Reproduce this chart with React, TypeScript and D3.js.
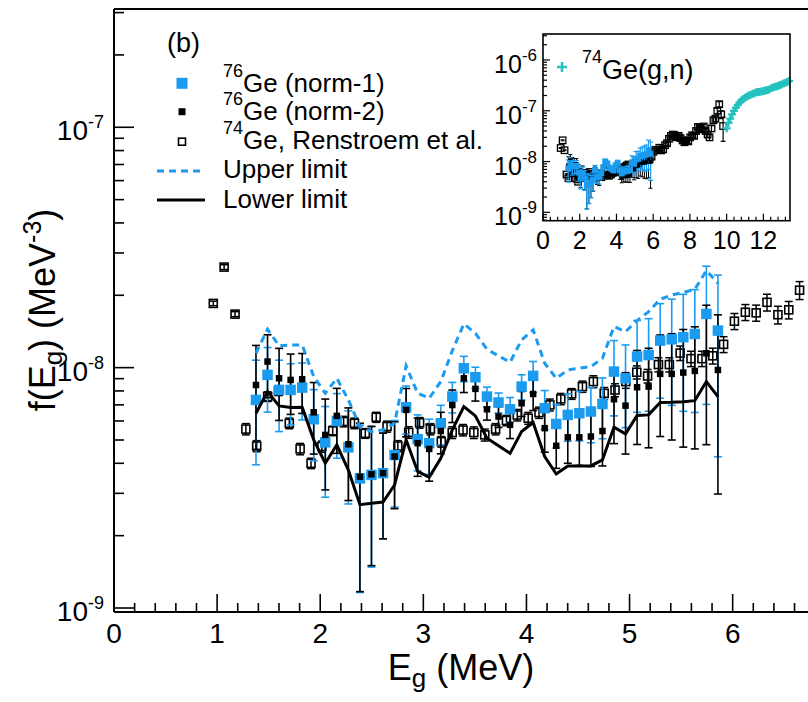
import React from 'react';
import * as d3 from 'd3';

// ---------- data ----------
const energy = [1.377, 1.489, 1.601, 1.713, 1.825, 1.937, 2.049, 2.161, 2.273, 2.385, 2.497, 2.609, 2.721, 2.833, 2.945, 3.057, 3.169, 3.281, 3.393, 3.505, 3.617, 3.729, 3.841, 3.953, 4.065, 4.177, 4.289, 4.401, 4.513, 4.625, 4.737, 4.849, 4.961, 5.073, 5.185, 5.297, 5.409, 5.521, 5.633, 5.745, 5.857];
// values in units of 1e-9 MeV^-3
const norm1 = [7.34, 9.33, 8.08, 8.08, 8.26, 6.10, 4.89, 6.00, 4.66, 3.46, 3.58, 3.64, 4.33, 6.84, 5.04, 4.85, 5.87, 7.58, 9.94, 9.12, 7.58, 7.16, 6.71, 8.34, 9.24, 6.78, 5.83, 6.36, 6.46, 6.57, 7.06, 9.63, 9.03, 11.12, 11.29, 12.96, 13.12, 13.38, 13.81, 16.73, 14.26];
const norm1Err = [3.4, 2.8, 2.66, 2.3, 2.2, 2.0, 2.0, 1.8, 1.95, 2.3, 2.1, 1.7, 1.7, 1.55, 1.32, 1.25, 1.1, 1.1, 1.2, 0.92, 0.72, 0.68, 0.8, 1.0, 1.37, 1.25, 1.2, 1.42, 1.5, 1.7, 2.0, 3.33, 3.4, 4.6, 4.7, 5.5, 6.15, 6.8, 7.3, 9.7, 10.0];
const norm2 = [8.47, 10.60, 9.03, 8.89, 8.95, 6.52, 5.25, 6.30, 4.80, 3.52, 3.60, 3.64, 4.27, 6.67, 4.85, 4.59, 5.45, 6.99, 9.03, 8.16, 6.71, 6.26, 5.78, 7.11, 7.77, 5.60, 4.73, 5.13, 5.13, 5.17, 5.45, 7.39, 6.95, 8.29, 8.34, 9.42, 9.42, 9.54, 9.69, 11.48, 9.78];
const norm2Err = [3.9, 3.1, 3.0, 2.5, 2.5, 2.15, 2.15, 1.9, 2.0, 2.35, 2.1, 1.7, 1.68, 1.52, 1.32, 1.22, 1.07, 1.08, 1.15, 0.9, 0.66, 0.62, 0.71, 0.85, 1.14, 1.15, 0.92, 1.13, 1.21, 1.29, 1.55, 2.56, 2.58, 3.5, 3.7, 4.25, 4.42, 4.87, 5.1, 6.7, 6.8];
const upperLimit = [11.48, 14.44, 12.32, 12.43, 12.43, 9.18, 7.82, 9.03, 7.34, 5.69, 5.42, 5.51, 5.87, 10.17, 7.82, 7.46, 8.75, 11.77, 15.20, 13.90, 11.93, 11.19, 10.53, 13.04, 14.35, 10.43, 9.03, 9.78, 9.94, 10.10, 10.94, 14.82, 14.12, 15.69, 17.11, 19.25, 20.07, 20.52, 21.19, 25.33, 22.44];
const lowerLimit = [6.46, 7.95, 6.93, 6.82, 6.84, 5.01, 4.00, 4.77, 3.75, 2.69, 2.73, 2.76, 3.25, 5.01, 3.70, 3.50, 4.20, 5.51, 6.89, 6.30, 5.09, 4.73, 4.40, 5.42, 5.91, 4.27, 3.61, 3.90, 3.90, 3.90, 4.13, 5.65, 5.30, 6.32, 6.36, 7.16, 7.18, 7.22, 7.29, 8.75, 7.58];

// 74Ge, Renstroem et al. (units 1e-9)
const ge74E = [0.963, 1.068, 1.174, 1.279, 1.384, 1.490, 1.595, 1.700, 1.805, 1.911, 2.016, 2.121, 2.227, 2.332, 2.437, 2.543, 2.648, 2.753, 2.858, 2.964, 3.069, 3.174, 3.280, 3.385, 3.490, 3.596, 3.701, 3.806, 3.911, 4.017, 4.122, 4.227, 4.333, 4.438, 4.543, 4.649, 4.754, 4.859, 4.964, 5.070, 5.175, 5.280, 5.386, 5.491, 5.596, 5.702, 5.807, 5.912, 6.017, 6.123, 6.228, 6.333, 6.439, 6.544, 6.649];
const ge74 = [18.5, 26.2, 16.7, 5.55, 4.72, 7.58, 8.0, 5.87, 4.59, 4.0, 4.7, 5.46, 5.97, 5.87, 5.33, 6.22, 5.69, 4.72, 5.38, 5.9, 5.55, 4.92, 5.37, 5.5, 5.37, 5.25, 5.55, 6.03, 6.35, 6.16, 6.5, 7.0, 7.41, 7.78, 8.34, 8.75, 7.82, 8.07, 8.75, 9.57, 9.23, 10.3, 10.3, 11.5, 10.9, 10.9, 11.2, 12.5, 15.6, 17.0, 16.9, 18.7, 16.6, 17.4, 21.0];
const ge74Err = [0.4, 0.6, 0.4, 0.3, 0.25, 0.35, 0.35, 0.3, 0.25, 0.2, 0.25, 0.25, 0.3, 0.3, 0.25, 0.3, 0.3, 0.25, 0.3, 0.3, 0.3, 0.25, 0.3, 0.3, 0.3, 0.3, 0.3, 0.3, 0.35, 0.35, 0.35, 0.4, 0.4, 0.4, 0.45, 0.5, 0.45, 0.5, 0.55, 0.6, 0.6, 0.7, 0.7, 0.8, 0.8, 0.8, 0.85, 0.95, 1.2, 1.3, 1.3, 1.5, 1.4, 1.45, 1.8];

// inset only: 74Ge above 6.7 MeV (units 1e-8)
const ge74HiE = [6.754, 6.860, 6.965, 7.070, 7.175, 7.281, 7.386, 7.491, 7.597, 7.702, 7.807, 7.912, 8.018, 8.123, 8.228, 8.334, 8.439, 8.544, 8.649, 8.755, 8.860, 8.965, 9.070, 9.176, 9.281, 9.386, 9.492, 9.597, 9.702, 9.807];
const ge74Hi = [2.3, 2.8, 3.2, 3.4, 3.3, 3.0, 3.2, 2.9, 2.6, 2.4, 2.6, 2.5, 3.0, 3.3, 3.2, 4.0, 4.8, 4.5, 4.3, 4.9, 4.0, 3.4, 3.0, 4.5, 6.5, 7.0, 10.0, 13.5, 8.5, 5.0];
const ge74HiErr = [0.2, 0.25, 0.3, 0.3, 0.3, 0.3, 0.3, 0.3, 0.25, 0.25, 0.25, 0.25, 0.3, 0.3, 0.3, 0.4, 0.5, 0.45, 0.45, 0.5, 0.45, 0.4, 0.4, 0.6, 0.8, 0.9, 1.2, 1.6, 1.5, 2.5];

// inset only: 74Ge(g,n) (units 1e-7)
const gnE = [10.0, 10.1, 10.2, 10.3, 10.4, 10.5, 10.6, 10.7, 10.8, 10.9, 11.0, 11.1, 11.2, 11.3, 11.4, 11.5, 11.6, 11.7, 11.8, 11.9, 12.0, 12.1, 12.2, 12.3, 12.4, 12.5, 12.6, 12.7, 12.8, 12.9, 13.0, 13.1, 13.2, 13.3, 13.4];
const gnVal = [0.45, 0.58, 0.70, 0.85, 1.0, 1.15, 1.3, 1.45, 1.6, 1.7, 1.8, 1.9, 2.0, 2.05, 2.15, 2.2, 2.3, 2.35, 2.35, 2.4, 2.45, 2.5, 2.55, 2.6, 2.75, 2.85, 2.95, 3.0, 3.1, 3.2, 3.3, 3.45, 3.55, 3.7, 3.85];

const xMajor = [0, 1, 2, 3, 4, 5, 6];
const yMajor = [1e-9, 1e-8, 1e-7];
const yMajorExp = ['-9', '-8', '-7'];
const insetXMajor = [0, 2, 4, 6, 8, 10, 12];
const insetYMajor = [1e-9, 1e-8, 1e-7, 1e-6];
const insetYMajorExp = ['-9', '-8', '-7', '-6'];

const FONT = '"Liberation Sans", Arial, Helvetica, sans-serif';
const BLUE = '#1b9bf0';
const CYAN = '#22c2be';

type Pt = { e: number; v: number; err: number };
const zip = (es: number[], vs: number[], errs: number[], k: number): Pt[] =>
  es.map((e, i) => ({ e, v: vs[i] * k, err: errs[i] * k }));

function ErrBars({ pts, x, y, color, cap, sw }: any) {
  const [lo] = y.domain();
  return (
    <g stroke={color} strokeWidth={sw} fill="none">
      {pts.map((p: Pt, i: number) => {
        const cx = x(p.e);
        const top = y(p.v + p.err);
        const lowClamped = p.v - p.err <= lo;
        const bot = lowClamped ? y.range()[0] : y(p.v - p.err);
        return (
          <g key={i}>
            <line x1={cx} x2={cx} y1={top} y2={bot} />
            <line x1={cx - cap} x2={cx + cap} y1={top} y2={top} />
            {!lowClamped && <line x1={cx - cap} x2={cx + cap} y1={bot} y2={bot} />}
          </g>
        );
      })}
    </g>
  );
}

function Squares({ pts, x, y, size, fill, stroke, sw }: any) {
  return (
    <g>
      {pts.map((p: Pt, i: number) => (
        <rect key={i} x={x(p.e) - size / 2} y={y(p.v) - size / 2} width={size} height={size}
          fill={fill} stroke={stroke} strokeWidth={sw} />
      ))}
    </g>
  );
}

export default function App() {
  const x = d3.scaleLinear().domain([0, 6.75]).range([114, 810]);
  const y = d3.scaleLog().domain([9.625e-10, 3.105e-7]).range([612, 9]);

  const p1 = zip(energy, norm1, norm1Err, 1e-9);
  const p2 = zip(energy, norm2, norm2Err, 1e-9);
  const pg = zip(ge74E, ge74, ge74Err, 1e-9);
  const pgHi = zip(ge74HiE, ge74Hi, ge74HiErr, 1e-8);

  const lineGen = (xs: any, ys: any) =>
    d3.line<number>().x((_, i) => xs(energy[i])).y((v) => ys(v * 1e-9));

  const yMinor: number[] = [];
  [1e-9, 1e-8, 1e-7].forEach((d) => {
    for (let k = 2; k <= 9; k++) {
      const v = k * d;
      if (v <= y.domain()[1]) yMinor.push(v);
    }
  });
  const xMinor = d3.range(0, 6.76, 0.2).filter((v) => Math.abs(v - Math.round(v)) > 1e-6);

  // inset
  const ix = d3.scaleLinear().domain([0, 13.45]).range([543, 790]);
  const iy = d3.scaleLog().domain([6.84e-10, 3.25e-6]).range([220.7, 34]);
  const iyMinor: number[] = [];
  [1e-10, 1e-9, 1e-8, 1e-7, 1e-6].forEach((d) => {
    for (let k = 2; k <= 9; k++) {
      const v = k * d;
      if (v >= iy.domain()[0] && v <= iy.domain()[1]) iyMinor.push(v);
    }
  });
  const ixMinor = d3.range(0, 13.45, 0.4).filter((v) => Math.abs(v / 2 - Math.round(v / 2)) > 1e-6);

  const legendX = 223;
  const legendRows = [91.7, 120, 149, 178, 208];

  return (
    <svg width={808} height={702} style={{ position: 'absolute', left: 0, top: 0, background: '#fff' }}
      fontFamily={FONT}>
      <rect x={0} y={0} width={808} height={702} fill="#fff" />

      {/* ---------- main data ---------- */}
      <ErrBars pts={pg} x={x} y={y} color="#000" cap={4} sw={1.5} />
      <Squares pts={pg} x={x} y={y} size={8} fill="none" stroke="#000" sw={1.6} />

      <ErrBars pts={p1} x={x} y={y} color={BLUE} cap={4} sw={1.6} />
      <ErrBars pts={p2} x={x} y={y} color="#000" cap={4} sw={1.6} />
      <Squares pts={p1} x={x} y={y} size={10.5} fill={BLUE} stroke="none" sw={0} />
      <Squares pts={p2} x={x} y={y} size={6.5} fill="#000" stroke="none" sw={0} />

      <path d={lineGen(x, y)(upperLimit) || ''} fill="none" stroke={BLUE} strokeWidth={3} strokeDasharray="7 5" />
      <path d={lineGen(x, y)(lowerLimit) || ''} fill="none" stroke="#000" strokeWidth={3} />

      {/* ---------- main axes ---------- */}
      <g stroke="#000" strokeWidth={1.6}>
        {xMajor.map((v) => <line key={'xm' + v} x1={x(v)} x2={x(v)} y1={612} y2={594} />)}
        {xMinor.map((v, i) => <line key={'xn' + i} x1={x(v)} x2={x(v)} y1={612} y2={603} />)}
        {yMajor.map((v) => <line key={'ym' + v} x1={114} x2={134} y1={y(v)} y2={y(v)} />)}
        {yMinor.map((v, i) => <line key={'yn' + i} x1={114} x2={124} y1={y(v)} y2={y(v)} />)}
      </g>
      <g stroke="#000" strokeWidth={2}>
        <line x1={114} x2={808} y1={612} y2={612} />
        <line x1={114} x2={114} y1={9} y2={612} />
        <line x1={114} x2={808} y1={9} y2={9} />
      </g>
      <g fontSize={28} fill="#000">
        {xMajor.map((v) => (
          <text key={'xl' + v} x={x(v)} y={643} textAnchor="middle">{v}</text>
        ))}
        {yMajor.map((v, i) => (
          <text key={'yl' + v} x={104} y={y(v) + 13} textAnchor="end">
            10<tspan fontSize={18} dy={-12}>{yMajorExp[i]}</tspan>
          </text>
        ))}
      </g>
      <text x={461} y={680} textAnchor="middle" fontSize={36}>
        E<tspan fontSize={26} dy={7}>g</tspan><tspan dy={-7}> (MeV)</tspan>
      </text>
      <text transform="translate(55,310) rotate(-90)" textAnchor="middle" fontSize={36}>
        f(E<tspan fontSize={26} dy={7}>g</tspan><tspan dy={-7}>) (MeV</tspan>
        <tspan fontSize={25} dy={-14}>-3</tspan><tspan dy={14}>)</tspan>
      </text>

      {/* ---------- legend ---------- */}
      <text x={167} y={52} fontSize={27}>(b)</text>
      <rect x={182 - 5.5} y={83.3 - 5.5} width={11} height={11} fill={BLUE} />
      <rect x={182 - 3.5} y={111.7 - 3.5} width={7} height={7} fill="#000" />
      <rect x={182 - 3.5} y={141.7 - 3.5} width={7} height={7} fill="none" stroke="#000" strokeWidth={1.6} />
      <line x1={157} x2={205} y1={171} y2={171} stroke={BLUE} strokeWidth={3} strokeDasharray="7 5" />
      <line x1={157} x2={205} y1={200} y2={200} stroke="#000" strokeWidth={3} />
      <g fontSize={26} fill="#000">
        <text x={legendX} y={legendRows[0]}>
          <tspan fontSize={18} dy={-15}>76</tspan><tspan dy={15}>Ge (norm-1)</tspan>
        </text>
        <text x={legendX} y={legendRows[1]}>
          <tspan fontSize={18} dy={-15}>76</tspan><tspan dy={15}>Ge (norm-2)</tspan>
        </text>
        <text x={legendX} y={legendRows[2]}>
          <tspan fontSize={18} dy={-15}>74</tspan><tspan dy={15}>Ge, Renstroem et al.</tspan>
        </text>
        <text x={legendX} y={legendRows[3]}>Upper limit</text>
        <text x={legendX} y={legendRows[4]}>Lower limit</text>
      </g>

      {/* ---------- inset ---------- */}
      <rect x={543} y={34} width={247} height={186.7} fill="#fff" />
      <ErrBars pts={pg} x={ix} y={iy} color="#000" cap={2} sw={1} />
      <ErrBars pts={pgHi} x={ix} y={iy} color="#000" cap={2.5} sw={1.2} />
      <Squares pts={pg} x={ix} y={iy} size={6.5} fill="none" stroke="#000" sw={1.3} />
      <Squares pts={pgHi} x={ix} y={iy} size={6.5} fill="none" stroke="#000" sw={1.3} />
      <ErrBars pts={p2} x={ix} y={iy} color="#000" cap={2} sw={1} />
      <ErrBars pts={p1} x={ix} y={iy} color={BLUE} cap={2.5} sw={1.2} />
      <Squares pts={p2} x={ix} y={iy} size={4} fill="#000" stroke="none" sw={0} />
      <Squares pts={p1} x={ix} y={iy} size={6} fill={BLUE} stroke="none" sw={0} />
      <g stroke={CYAN} strokeWidth={2.2}>
        {gnE.map((e, i) => {
          const cx = ix(e), cy = iy(gnVal[i] * 1e-7);
          return (
            <g key={i}>
              <line x1={cx - 4} x2={cx + 4} y1={cy} y2={cy} />
              <line x1={cx} x2={cx} y1={cy - 4} y2={cy + 4} />
            </g>
          );
        })}
      </g>
      <g stroke="#000" strokeWidth={1.2}>
        {insetXMajor.map((v) => <line key={'ixm' + v} x1={ix(v)} x2={ix(v)} y1={220.7} y2={213.7} />)}
        {ixMinor.map((v, i) => <line key={'ixn' + i} x1={ix(v)} x2={ix(v)} y1={220.7} y2={216.7} />)}
        {insetYMajor.map((v) => <line key={'iym' + v} x1={543} x2={550} y1={iy(v)} y2={iy(v)} />)}
        {iyMinor.map((v, i) => <line key={'iyn' + i} x1={543} x2={547} y1={iy(v)} y2={iy(v)} />)}
      </g>
      <rect x={543} y={34} width={247} height={186.7} fill="none" stroke="#000" strokeWidth={1.6} />
      <g fontSize={25} fill="#000">
        {insetXMajor.map((v) => (
          <text key={'ixl' + v} x={ix(v)} y={249} textAnchor="middle">{v}</text>
        ))}
        {insetYMajor.map((v, i) => (
          <text key={'iyl' + v} x={537} y={iy(v) + 13} textAnchor="end">
            10<tspan fontSize={17} dy={-12}>{insetYMajorExp[i]}</tspan>
          </text>
        ))}
      </g>
      <g stroke={CYAN} strokeWidth={2.5}>
        <line x1={557} x2={567} y1={67} y2={67} />
        <line x1={562} x2={562} y1={62} y2={72} />
      </g>
      <text x={582} y={79} fontSize={27}>
        <tspan fontSize={18} dy={-16}>74</tspan><tspan dy={16}>Ge(g,n)</tspan>
      </text>
    </svg>
  );
}
